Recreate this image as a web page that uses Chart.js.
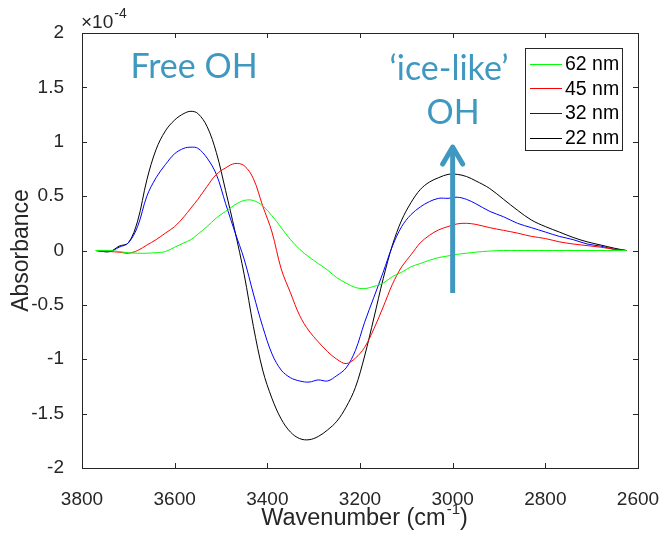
<!DOCTYPE html>
<html>
<head>
<meta charset="utf-8">
<script src="https://cdn.jsdelivr.net/npm/chart.js@4/dist/chart.umd.min.js"></script>
<style>
  html, body { margin: 0; padding: 0; background: #fff; }
  #wrap { width: 662px; height: 533px; }
</style>
</head>
<body>
<div id="wrap"><canvas id="spectra" width="662" height="533"></canvas></div>
<script>
// wavenumber grid (cm-1), absorbance in units of 1e-4
var wavenumbers = [3770, 3740, 3720, 3700, 3680, 3660, 3640, 3620, 3600, 3580, 3565, 3550, 3530, 3510, 3490, 3470, 3450, 3430, 3410, 3390,
                   3370, 3350, 3330, 3310, 3290, 3270, 3250, 3230, 3210, 3190, 3170, 3150, 3130, 3110, 3090, 3070, 3050, 3030, 3010, 2990,
                   2970, 2950, 2920, 2890, 2860, 2830, 2800, 2770, 2740, 2710, 2680, 2650, 2625];

var nm62 = [0, 0, -0.01, -0.02, -0.025, -0.025, -0.02, -0.01, 0.03, 0.07, 0.1, 0.15, 0.22, 0.3, 0.36, 0.42, 0.46, 0.46, 0.41, 0.32,
            0.21, 0.1, 0.01, -0.06, -0.12, -0.18, -0.25, -0.3, -0.34, -0.35, -0.33, -0.3, -0.24, -0.2, -0.15, -0.12, -0.09, -0.065, -0.05, -0.035,
            -0.025, -0.015, -0.005, 0, 0, 0, 0, 0, 0, 0, 0, 0, 0];

var nm45 = [0, -0.01, -0.015, -0.025, 0.0, 0.05, 0.1, 0.16, 0.22, 0.31, 0.39, 0.47, 0.59, 0.7, 0.76, 0.8, 0.78, 0.66, 0.41, 0.17,
            -0.17, -0.39, -0.6, -0.74, -0.84, -0.93, -1.0, -1.04, -0.99, -0.89, -0.72, -0.52, -0.31, -0.15, -0.04, 0.07, 0.14, 0.19, 0.22, 0.245,
            0.25, 0.24, 0.21, 0.185, 0.16, 0.13, 0.11, 0.08, 0.06, 0.045, 0.03, 0.01, 0];

var nm32 = [0, -0.01, 0.03, 0.07, 0.22, 0.5, 0.67, 0.79, 0.89, 0.94, 0.95, 0.94, 0.85, 0.7, 0.43, 0.17, -0.08, -0.4, -0.7, -0.95,
            -1.1, -1.17, -1.2, -1.21, -1.19, -1.2, -1.15, -1.08, -0.92, -0.66, -0.43, -0.2, 0.04, 0.22, 0.33, 0.4, 0.45, 0.48, 0.48, 0.49,
            0.47, 0.43, 0.36, 0.31, 0.25, 0.21, 0.17, 0.13, 0.1, 0.06, 0.04, 0.01, 0];

var nm22 = [0, -0.01, 0.04, 0.07, 0.27, 0.65, 0.93, 1.1, 1.2, 1.26, 1.28, 1.26, 1.14, 0.9, 0.55, 0.18, -0.22, -0.7, -1.1, -1.36,
            -1.55, -1.67, -1.73, -1.74, -1.71, -1.65, -1.57, -1.44, -1.26, -0.97, -0.62, -0.26, 0.05, 0.28, 0.44, 0.56, 0.63, 0.67, 0.7, 0.7,
            0.68, 0.64, 0.57, 0.47, 0.37, 0.28, 0.22, 0.17, 0.12, 0.08, 0.05, 0.02, 0];

var seriesLabels = ['62 nm', '45 nm', '32 nm', '22 nm'];
var seriesColors = ['rgb(0,255,0)', 'rgb(255,0,0)', 'rgb(0,0,255)', 'rgb(0,0,0)'];
var seriesValues = [nm62, nm45, nm32, nm22];

var xTicks = [3800, 3600, 3400, 3200, 3000, 2800, 2600];
var yTicks = [-2, -1.5, -1, -0.5, 0, 0.5, 1, 1.5, 2];

// arrow marking the 'ice-like' OH growth (x in cm-1, y in 1e-4)
var arrowX = 3000;
var arrowFrom = -0.39;
var arrowTo = 0.97;

var axisInk = '#262626';
var noteInk = '#3f98bf';
var sans = '"Liberation Sans", Arial, sans-serif';

function toPoints(vals) {
  return wavenumbers.map(function (w, i) { return { x: w, y: vals[i] }; });
}

var extras = {
  id: 'extras',
  afterDraw: function (chart) {
    var c = chart.ctx;
    var a = chart.chartArea;
    var xs = chart.scales.x, ys = chart.scales.y;
    c.save();

    // frame + inside ticks (matlab style)
    c.strokeStyle = axisInk;
    c.lineWidth = 1;
    c.strokeRect(Math.round(a.left) + 0.5, Math.round(a.top) + 0.5, Math.round(a.right - a.left), Math.round(a.bottom - a.top));
    c.beginPath();
    xTicks.forEach(function (t) {
      var px = Math.round(xs.getPixelForValue(t)) + 0.5;
      c.moveTo(px, a.bottom); c.lineTo(px, a.bottom - 5);
      c.moveTo(px, a.top); c.lineTo(px, a.top + 5);
    });
    yTicks.forEach(function (t) {
      var py = Math.round(ys.getPixelForValue(t)) + 0.5;
      c.moveTo(a.left, py); c.lineTo(a.left + 5, py);
      c.moveTo(a.right, py); c.lineTo(a.right - 5, py);
    });
    c.stroke();

    // exponent
    c.fillStyle = axisInk;
    c.textAlign = 'left';
    c.textBaseline = 'alphabetic';
    c.font = '19px ' + sans;
    c.fillText('\u00d710', a.left - 1, a.top - 5);
    var w10 = c.measureText('\u00d710').width;
    c.font = '14px ' + sans;
    c.fillText('-4', a.left + w10, a.top - 15);

    // y title
    c.font = '23px ' + sans;
    c.save();
    c.translate(22, (a.top + a.bottom) / 2);
    c.rotate(-Math.PI / 2);
    c.textAlign = 'center';
    c.textBaseline = 'middle';
    c.fillText('Absorbance', 0, 0);
    c.restore();

    // x title with superscript
    var main = 'Wavenumber (cm', sup = '-1', tail = ')';
    c.font = '23.5px ' + sans;
    var wMain = c.measureText(main).width, wTail = c.measureText(tail).width;
    c.font = '15px ' + sans;
    var wSup = c.measureText(sup).width;
    var x0 = (a.left + a.right) / 2 + 4 - (wMain + wSup + wTail) / 2;
    var base = 525;
    c.textAlign = 'left';
    c.font = '23.5px ' + sans;
    c.fillText(main, x0, base);
    c.fillText(tail, x0 + wMain + wSup + 1, base);
    c.font = '15px ' + sans;
    c.fillText(sup, x0 + wMain + 1, base - 11);

    // legend
    var lx = 525, ly = 48, lw = 97, lh = 102;
    c.fillStyle = '#fff';
    c.fillRect(lx, ly, lw, lh);
    c.strokeStyle = axisInk;
    c.strokeRect(lx + 0.5, ly + 0.5, lw, lh);
    c.font = '19.5px ' + sans;
    c.textBaseline = 'middle';
    chart.data.datasets.forEach(function (ds, i) {
      var yy = ly + 15.5 + i * 24.7;
      c.strokeStyle = ds.borderColor;
      c.beginPath();
      c.moveTo(lx + 5, Math.round(yy) + 0.5);
      c.lineTo(lx + 37, Math.round(yy) + 0.5);
      c.stroke();
      c.fillStyle = '#000';
      c.fillText(ds.label, lx + 40, yy + 1);
    });

    // annotations
    c.fillStyle = noteInk;
    c.textAlign = 'center';
    c.textBaseline = 'alphabetic';
    c.font = '34px Lato, "Open Sans", sans-serif';
    c.fillText('Free OH', 194, 78);
    c.fillText('\u2018ice-like\u2019', 449, 80);
    c.fillText('OH', 453, 124);

    // arrow
    var ax = xs.getPixelForValue(arrowX);
    var yFrom = ys.getPixelForValue(arrowFrom);
    var yTo = ys.getPixelForValue(arrowTo);
    c.strokeStyle = noteInk;
    c.lineWidth = 5;
    c.lineCap = 'butt';
    c.beginPath();
    c.moveTo(ax, yFrom);
    c.lineTo(ax, yTo + 3);
    c.stroke();
    c.lineCap = 'round';
    c.lineJoin = 'round';
    c.beginPath();
    c.moveTo(ax - 10, yTo + 19);
    c.lineTo(ax, yTo + 2);
    c.lineTo(ax + 10, yTo + 19);
    c.stroke();

    c.restore();
  }
};

var ctx = document.getElementById('spectra').getContext('2d');

var chart = new Chart(ctx, {
  type: 'line',
  data: {
    datasets: seriesLabels.map(function (lab, i) {
      return {
        label: lab,
        data: toPoints(seriesValues[i]),
        borderColor: seriesColors[i],
        backgroundColor: seriesColors[i],
        borderWidth: 1,
        pointRadius: 0,
        tension: 0.35,
        fill: false
      };
    })
  },
  options: {
    responsive: false,
    animation: false,
    layout: { padding: { left: 0, top: 33, right: 24, bottom: 0 } },
    plugins: { legend: { display: false }, tooltip: { enabled: false } },
    scales: {
      x: {
        type: 'linear',
        min: 2600,
        max: 3800,
        reverse: true,
        grid: { display: false },
        border: { display: false },
        ticks: {
          stepSize: 200,
          color: axisInk,
          padding: 12,
          font: { family: sans, size: 19 },
          callback: function (v) { return String(v); }
        },
        afterFit: function (s) { s.height = 65; s.paddingLeft = 0; s.paddingRight = 0; }
      },
      y: {
        min: -2,
        max: 2,
        grid: { display: false },
        border: { display: false },
        ticks: {
          stepSize: 0.5,
          color: axisInk,
          padding: 10,
          font: { family: sans, size: 19 },
          callback: function (v) { return String(v); }
        },
        afterFit: function (s) { s.width = 82; s.paddingTop = 0; s.paddingBottom = 0; }
      }
    }
  },
  plugins: [extras]
});
</script>
</body>
</html>
